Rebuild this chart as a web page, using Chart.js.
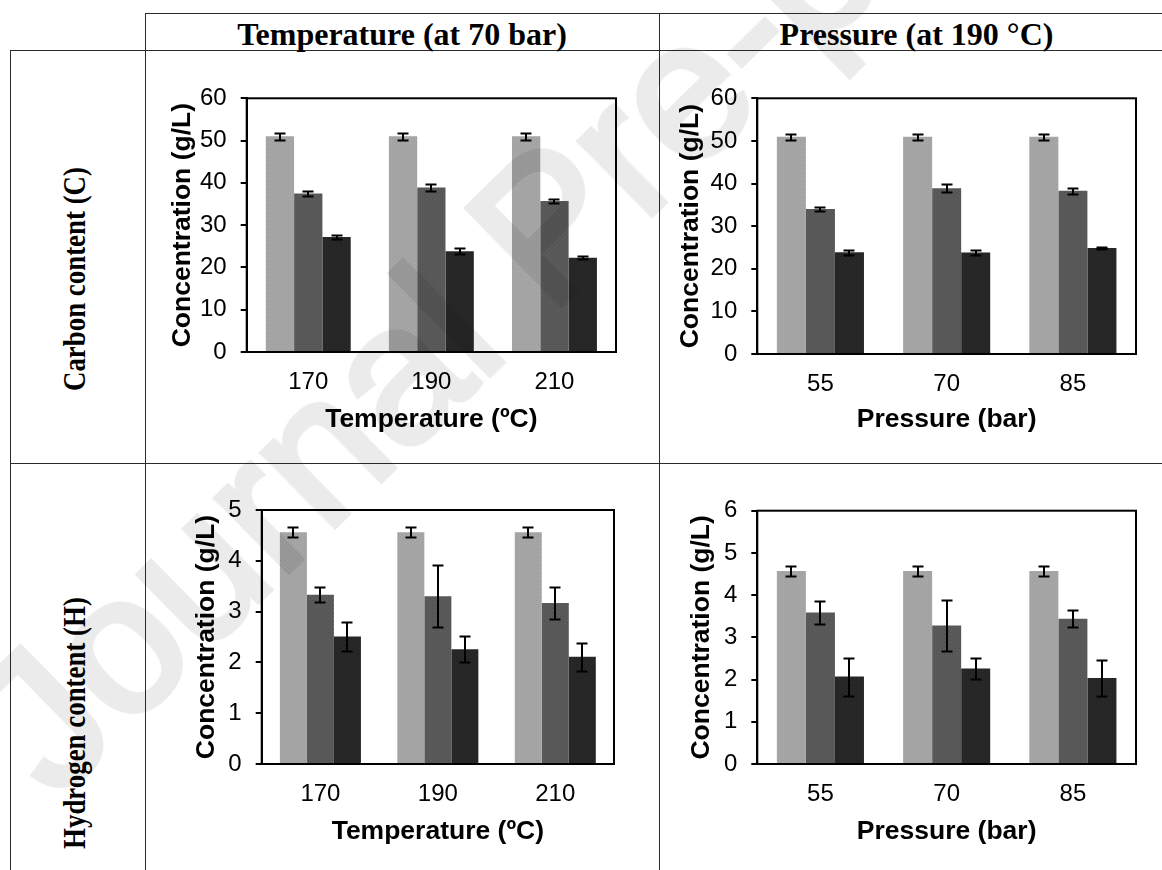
<!DOCTYPE html>
<html lang="en">

<head>
  <meta charset="UTF-8" />
  <title>C and H content</title>
  <script src="https://cdn.jsdelivr.net/npm/chart.js"></script>
  <style>
    body { margin: 0; background: #fff; }
    #page { position: relative; width: 1162px; height: 870px; overflow: hidden; background: #fff; }
    .hl { position: absolute; height: 1px; background: #2b2b2b; }
    .vl { position: absolute; width: 1px; background: #2b2b2b; }
    .colhead, .rowhead {
      position: absolute; font-family: 'Liberation Serif', 'Times New Roman', serif;
      font-weight: bold; font-size: 32px; line-height: 32px; color: #000;
      text-align: center; white-space: nowrap;
    }
    /* side labels are squeezed along their length */
    .rowhead { width: 400px; transform: rotate(-90deg) scaleX(0.84); }
    canvas { position: absolute; }
    #mark {
      position: absolute; left: 545px; top: 225px; white-space: nowrap;
      font-family: 'Liberation Sans', Arial, sans-serif; font-size: 195px;
      line-height: 195px; color: #ebebeb; -webkit-text-stroke: 6px #ebebeb;
      mix-blend-mode: multiply; pointer-events: none;
      transform: translate(-50%, -50%) rotate(-44.5deg);
    }
  </style>
</head>

<body>
  <div id="page">
    <!-- table grid -->
    <div class="hl" style="left:145px; top:13px; width:1017px;"></div>
    <div class="hl" style="left:10px; top:50px; width:1152px;"></div>
    <div class="hl" style="left:10px; top:463px; width:1152px;"></div>
    <div class="vl" style="left:10px; top:50px; height:820px;"></div>
    <div class="vl" style="left:145px; top:13px; height:857px;"></div>
    <div class="vl" style="left:659px; top:13px; height:857px;"></div>

    <div class="colhead" style="left:145px; top:18px; width:514px;">Temperature (at 70 bar)</div>
    <div class="colhead" style="left:659px; top:18px; width:515px;">Pressure (at 190 °C)</div>
    <div class="rowhead" style="left:-126px; top:263px;">Carbon content (C)</div>
    <div class="rowhead" style="left:-126px; top:707px;">Hydrogen content (H)</div>

    <canvas id="cTemp" width="480" height="400" style="left:150px; top:60px;"></canvas>
    <canvas id="cPress" width="490" height="400" style="left:660px; top:60px;"></canvas>
    <canvas id="hTemp" width="480" height="400" style="left:150px; top:470px;"></canvas>
    <canvas id="hPress" width="490" height="400" style="left:660px; top:470px;"></canvas>

    <div id="mark">Journal Pre-proof</div>
  </div>

  <script>
    // categories
    const temperatures = ['170', '190', '210'];
    const pressures = ['55', '70', '85'];

    // carbon, temperature series (g/L) and their errors
    const cTempS1 = [51.0, 51.0, 51.0];
    const cTempS1Err = [0.8, 0.8, 0.8];
    const cTempS2 = [37.5, 38.9, 35.7];
    const cTempS2Err = [0.5, 0.9, 0.5];
    const cTempS3 = [27.2, 23.8, 22.3];
    const cTempS3Err = [0.5, 0.7, 0.4];

    // carbon, pressure
    const cPressS1 = [51.0, 51.0, 51.0];
    const cPressS1Err = [0.7, 0.7, 0.7];
    const cPressS2 = [34.0, 38.9, 38.3];
    const cPressS2Err = [0.5, 1.0, 0.7];
    const cPressS3 = [23.9, 23.8, 24.9];
    const cPressS3Err = [0.6, 0.5, 0.3];

    // hydrogen, temperature
    const hTempS1 = [4.56, 4.56, 4.56];
    const hTempS1Err = [0.1, 0.1, 0.1];
    const hTempS2 = [3.33, 3.30, 3.17];
    const hTempS2Err = [0.15, 0.61, 0.31];
    const hTempS3 = [2.51, 2.26, 2.11];
    const hTempS3Err = [0.28, 0.26, 0.27];

    // hydrogen, pressure
    const hPressS1 = [4.57, 4.57, 4.57];
    const hPressS1Err = [0.11, 0.11, 0.11];
    const hPressS2 = [3.59, 3.28, 3.44];
    const hPressS2Err = [0.27, 0.6, 0.2];
    const hPressS3 = [2.07, 2.26, 2.04];
    const hPressS3Err = [0.45, 0.24, 0.42];

    const yTitle = 'Concentration (g/L)';
    const FONT = "'Liberation Sans', Arial, sans-serif";

    // fine dotted fill like the printed bars
    function stipple(base, dot) {
      const c = document.createElement('canvas');
      c.width = 4; c.height = 4;
      const g = c.getContext('2d');
      g.fillStyle = base; g.fillRect(0, 0, 4, 4);
      g.fillStyle = dot; g.fillRect(0, 0, 1, 1); g.fillRect(2, 2, 1, 1);
      return g.createPattern(c, 'repeat');
    }
    const fills = [stipple('#a6a6a6', '#999999'), stipple('#5a5a5a', '#4c4c4c'), stipple('#282828', '#1b1b1b')];

    // box round the plot area
    const frame = {
      id: 'frame',
      afterDraw(chart) {
        const a = chart.chartArea, ctx = chart.ctx;
        ctx.save();
        ctx.strokeStyle = '#000';
        ctx.lineWidth = 2;
        ctx.strokeRect(a.left, a.top, a.right - a.left, a.bottom - a.top);
        ctx.restore();
      }
    };

    // +/- error bars on every bar
    const errorBars = {
      id: 'errorBars',
      afterDatasetsDraw(chart) {
        const ctx = chart.ctx, y = chart.scales.y;
        ctx.save();
        ctx.strokeStyle = '#000';
        ctx.lineWidth = 2;
        chart.data.datasets.forEach((ds, i) => {
          chart.getDatasetMeta(i).data.forEach((bar, j) => {
            const v = ds.data[j], e = ds.errors[j];
            const top = Math.round(y.getPixelForValue(v + e)) + 0.5;
            const bot = Math.round(y.getPixelForValue(v - e)) + 0.5;
            const x = Math.round(bar.x);
            ctx.beginPath();
            ctx.moveTo(x, top); ctx.lineTo(x, bot);
            ctx.moveTo(x - 5.5, top); ctx.lineTo(x + 5.5, top);
            ctx.moveTo(x - 5.5, bot); ctx.lineTo(x + 5.5, bot);
            ctx.stroke();
          });
        });
        ctx.restore();
      }
    };

    function makeChart(id, labels, series, errors, yMax, step, xTitle, lay) {
      const datasets = series.map((s, i) => ({
        label: 'S' + (i + 1),
        data: s,
        errors: errors[i],
        backgroundColor: fills[i],
        borderWidth: 0,
        barPercentage: 1.0,
        categoryPercentage: 0.69
      }));

      new Chart(document.getElementById(id), {
        type: 'bar',
        data: { labels, datasets },
        options: {
          responsive: false,
          animation: false,
          layout: { padding: { top: lay.padTop, right: lay.padRight, left: 0, bottom: 0 } },
          plugins: { legend: { display: false }, tooltip: { enabled: false } },
          scales: {
            x: {
              grid: { display: false, drawTicks: false },
              border: { display: true, color: '#000', width: 2 },
              ticks: { color: '#000', font: { family: FONT, size: 24 }, padding: 16 },
              title: {
                display: true, text: xTitle, color: '#000',
                font: { family: FONT, size: 26.5, weight: 'bold' },
                padding: { top: 0, bottom: lay.xTitlePad }
              },
              afterFit: s => { s.height = lay.xHeight; }
            },
            y: {
              min: 0,
              max: yMax,
              grid: { drawOnChartArea: false, drawTicks: true, tickLength: 6, color: '#000', lineWidth: 2 },
              border: { display: true, color: '#000', width: 2 },
              ticks: { stepSize: step, color: '#000', font: { family: FONT, size: 24 }, padding: 14 },
              title: {
                display: true, text: yTitle, color: '#000',
                font: { family: FONT, size: 26.5, weight: 'bold' },
                padding: { top: lay.yTitlePad, bottom: 0 }
              },
              afterFit: s => { s.width = lay.yWidth; }
            }
          }
        },
        plugins: [frame, errorBars]
      });
    }

    makeChart('cTemp', temperatures,
      [cTempS1, cTempS2, cTempS3], [cTempS1Err, cTempS2Err, cTempS3Err],
      60, 10, 'Temperature (ºC)',
      { padTop: 38.3, padRight: 14, yWidth: 96.7, xHeight: 108, yTitlePad: 16.6, xTitlePad: 24 });

    makeChart('cPress', pressures,
      [cPressS1, cPressS2, cPressS3], [cPressS1Err, cPressS2Err, cPressS3Err],
      60, 10, 'Pressure (bar)',
      { padTop: 38.3, padRight: 14, yWidth: 97.3, xHeight: 106, yTitlePad: 15.1, xTitlePad: 24 });

    makeChart('hTemp', temperatures,
      [hTempS1, hTempS2, hTempS3], [hTempS1Err, hTempS2Err, hTempS3Err],
      5, 1, 'Temperature (ºC)',
      { padTop: 40, padRight: 16, yWidth: 111.7, xHeight: 106, yTitlePad: 40.8, xTitlePad: 22.6 });

    makeChart('hPress', pressures,
      [hPressS1, hPressS2, hPressS3], [hPressS1Err, hPressS2Err, hPressS3Err],
      6, 1, 'Pressure (bar)',
      { padTop: 40.7, padRight: 14, yWidth: 97.3, xHeight: 106, yTitlePad: 26.1, xTitlePad: 22.6 });
  </script>
</body>

</html>
